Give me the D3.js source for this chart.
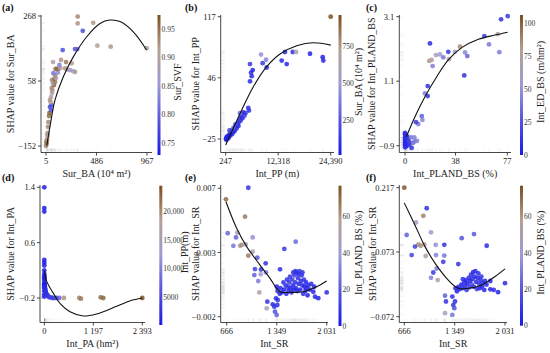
<!DOCTYPE html>
<html>
<head>
<meta charset="utf-8">
<script src="https://cdn.jsdelivr.net/npm/d3@7"></script>
<style>
  body { margin: 0; background: #fff; }
  svg { display: block; }
  svg text { font-family: "Liberation Serif", "Times New Roman", "DejaVu Serif", serif; }
</style>
</head>
<body>
<div id="chart-area"></div>
<script>
// ---- data: [x, shap, colour variable] ----
const aPoints = [
  [5,-152,0.93],[8,-148,0.92],[12,-142,0.94],[10,-138,0.95],[15,-132,0.93],[19,-122,0.91],[18,-115,0.90],
  [21,-110,0.92],[24,-90,0.93],[28,-75,0.93],[34,-55,0.95],[38,-45,0.96],[53,-36,0.79],[43,-26,0.78],
  [57,-20,0.78],[48,-10,0.91],[43,-3,0.92],[53,6,0.90],[62,19,0.89],[66,28,0.92],[59,35,0.93],
  [81,45,0.96],[70,50,0.87],[91,55,0.94],[62,61,0.93],[85,65,0.95],[100,68,0.88],[91,77,0.93],
  [75,83,0.82],[118,85,0.84],[281,87,0.92],[262,90,0.88],[234,93,0.85],[210,95,0.89],[95,97,0.94],
  [110,97,0.96],[124,97,0.95],[186,99,0.92],[140,100,0.90],[132,110,0.83],[250,115,0.91],[72,119,0.90],
  [196,119,0.94],[148,126,0.92],[164,158,0.78],[281,161,0.79],[303,161,0.80],[964,164,0.90],
  [621,169,0.92],[494,172,0.91],[355,220,0.78],[307,244,0.92],[455,246,0.92],[307,266,0.93]
];
const aCurve = [[12,-152],[43,-89],[91,-3],[170,72],[265,136],[393,201],[519,244],[614,255],[710,250],[836,217],[964,158]];

const bPoints = [
  [300,-25,40],[420,-23,60],[650,-22,30],[880,-21,80],[1110,-20,50],[1340,-18,90],[1570,-17,40],
  [1800,-16,120],[2030,-15,70],[2260,-12,150],[2490,-11,100],[2720,-9,60],[2950,-8,180],[3180,-6,90],
  [3410,-3,130],[3640,-1,200],[3870,1,110],[4100,4,160],[4330,6,90],[420,-26,30],[880,-24,50],
  [1340,-21,40],[1800,-19,70],[2260,-16,60],[2720,-13,110],[3180,-10,80],[3640,-4,150],[4100,-1,100],
  [4560,2,170],[4790,5,120],[1570,-15,250],[2030,-12,300],[2490,-8,220],[1110,-15,180],
  [3540,5,330],[5440,11,100],[5600,8,120],[5830,42,90],[6230,48,80],[6070,52,110],[6455,55,70],
  [5830,62,130],[9670,58,90],[8750,63,150],[14270,62,80],[13120,66,70],[22690,66,60],[22550,70,50],
  [19630,74,70],[9520,67,420],[8360,73,460],[13880,76,90],[15650,76,110],[16410,76,620],[24390,117,960]
];
const bCurve = [[247,-32],[1995,-12.6],[3930,8.7],[6600,35.7],[9680,59],[12740,73.7],[16580,83.3],[20400,86.8],[24400,84]];

const cPoints = [
  [0,-0.5,5],[0,-0.55,8],[0.5,-0.6,3],[0,-0.65,10],[1,-0.7,6],[0,-0.72,4],[0.5,-0.75,12],[0,-0.8,2],
  [1,-0.8,7],[0.2,-0.85,9],[1.5,-0.85,5],[0,-0.88,3],[2,-0.88,11],[0.5,-0.9,6],[1,-0.92,4],[0,-0.95,8],
  [3,-0.78,15],[2.5,-0.72,18],[4,-0.82,20],[5,-0.97,10],[1.5,-0.6,14],[0.3,-0.68,7],[2,-0.65,12],
  [6,-0.82,40],[7,-0.77,38],[9,-0.75,42],[3.2,-0.88,15],[4.5,-0.64,38],[7,-0.64,42],[10,-0.23,40],
  [8.3,-0.17,15],[13.1,-0.1,45],[12.6,0.02,30],[15,0.72,42],[17.1,0.64,12],[17.1,0.95,10],
  [20.8,1.57,42],[18.3,1.73,82],[20.1,1.76,76],[18.8,2.27,8],[23.3,1.91,62],[26.3,1.93,55],
  [28.8,1.84,38],[33.1,1.78,78],[32.6,2.01,12],[37.6,2.01,62],[44.6,1.28,10],[46.9,1.88,32],
  [45.2,1.99,45],[41.4,2.17,86],[71,2.0,42],[63.2,2.24,40],[69.8,2.56,72],[59.7,2.5,15],
  [72.3,3.02,10],[77.3,3.12,12]
];
const cCurve = [[1,-0.62],[7.5,0.0],[15,0.62],[23.9,1.24],[32.6,1.76],[42.7,2.14],[55.2,2.4],[67.7,2.53],[77.3,2.62]];

const dPoints = [
  [0,1.4,600],[0,1.1,500],[0,1.05,700],[0,0.35,400],[0,0.31,800],[0,0.27,500],[0,0.2,900],
  [0,0.15,600],[0,0.1,1200],[0,0.06,700],[0,0.02,1500],[0,0.0,800],[0,-0.05,1000],[0,-0.1,1100],
  [0,-0.15,900],[1,-0.18,1300],[2,0.12,800],[3,0.08,1000],[5,0.0,1100],[5,-0.02,1300],[8,0.0,900],
  [10,-0.05,1600],[12,-0.03,1400],[15,-0.07,2000],[18,-0.06,1700],[20,-0.08,1800],[25,-0.1,2200],
  [30,-0.12,2100],[35,-0.11,2500],[40,-0.13,2400],[50,-0.15,2800],[60,-0.16,3000],[70,-0.15,2600],
  [80,-0.17,3200],[100,-0.18,3500],[130,-0.19,3600],[160,-0.19,4000],[200,-0.2,4200],[250,-0.2,4500],
  [300,-0.2,5000],[367,-0.2,7500],[480,-0.2,19000],[855,-0.2,20500],[895,-0.21,21000],
  [1377,-0.19,22000],[1440,-0.2,22500],[2393,-0.2,24000]
];
const dCurve = [[0,0.2],[60,0.04],[220,-0.13],[400,-0.29],[628,-0.40],[952,-0.46],[1280,-0.43],[1768,-0.32],[2100,-0.24],[2393,-0.2]];

const ePoints = [
  [961,0.00704,8],[656,0.00623,70],[916,0.00501,66],[680,0.00385,25],[811,0.00389,48],[793,0.00356,22],
  [1021,0.00356,35],[757,0.00297,28],[848,0.00297,50],[871,0.00303,62],[925,0.00307,45],[1021,0.00256,50],
  [961,0.00228,66],[1084,0.00214,20],[1198,0.00174,8],[1052,0.00134,12],[1134,0.00131,10],[1202,0.00111,30],
  [1130,0.00097,40],[1043,0.00092,22],[1097,0.0005,30],[1111,-0.0003,52],[1394,0.00132,6],[1452,0.00275,10],
  [1608,0.00326,25],[1220,-0.00095,8],[1212,-0.00141,48],[1294,-0.00113,6],[1316,-0.0013,8],
  [1325,-0.00165,18],[1348,-0.00188,22],[1357,-0.00118,6],[1339,-0.00071,5],[1362,-0.00083,7],
  [1400,0.0,4],[1420,-0.0003,6],[1450,-0.0001,3],[1470,0.0002,8],[1480,-0.0004,5],[1500,0.0001,7],
  [1510,-0.0002,4],[1520,0.0004,9],[1540,0.0,3],[1550,-0.0003,6],[1560,0.0006,10],[1570,0.0002,4],
  [1580,-0.0001,5],[1590,0.0009,12],[1600,0.0004,6],[1610,0.0,3],[1620,0.0011,9],[1630,-0.0002,4],
  [1640,0.0007,7],[1650,0.0003,5],[1660,0.0012,11],[1670,-0.0001,3],[1680,0.0005,6],[1690,0.0009,8],
  [1700,0.0002,4],[1710,-0.0004,5],[1720,0.0006,7],[1730,0.0001,3],[1740,-0.0002,6],[1750,0.0004,4],
  [1760,0.0,5],[1770,-0.0005,3],[1780,0.0002,6],[1800,-0.0001,4],[1820,0.0003,5],[1440,0.0004,7],
  [1490,0.0006,5],[1530,0.0008,9],[1575,0.0011,6],[1605,0.0012,8],[1645,0.001,5],[1700,0.0011,7],
  [1390,-0.0004,4],[1360,-0.0002,6],[1350,0.0001,5],[1848,-0.00025,4],[1871,-0.0006,5],
  [1916,-0.0007,3],[2031,-0.0003,6],[1860,0.0001,4]
];
const eCurve = [[656,0.00606],[802,0.0042],[939,0.00291],[1121,0.00162],[1257,0.00069],[1394,-0.00025],[1530,-0.00029],[1712,-0.00025],[1894,0.0001],[2031,0.0005]];

const fPoints = [
  [666,0.217,75],[970,0.171,8],[924,0.154,65],[825,0.139,45],[1028,0.117,40],[698,0.111,22],
  [856,0.09,60],[937,0.09,55],[811,0.085,12],[888,0.087,62],[1092,0.089,35],[1208,0.089,8],
  [1444,0.104,18],[1611,0.113,20],[1783,0.087,6],[766,0.066,14],[956,0.064,55],[1096,0.066,32],
  [1208,0.065,28],[1194,0.051,10],[1398,0.046,8],[1059,0.027,10],[1105,0.036,30],[1028,0.015,32],
  [1119,0.01,50],[1218,-0.025,22],[1231,-0.038,8],[1317,-0.027,6],[1218,-0.064,48],[1330,-0.046,8],
  [1344,-0.053,18],[1317,-0.068,28],[1353,-0.038,6],
  [1400,-0.005,4],[1420,-0.01,6],[1440,0.0,3],[1460,-0.008,8],[1480,0.005,5],[1490,-0.004,7],
  [1500,0.01,4],[1510,-0.012,9],[1520,0.002,3],[1540,0.015,6],[1550,-0.006,10],[1560,0.008,4],
  [1570,0.022,5],[1580,0.0,12],[1590,0.012,6],[1600,0.028,3],[1610,-0.005,9],[1620,0.018,4],
  [1630,0.03,7],[1640,0.006,5],[1650,-0.01,11],[1660,0.015,3],[1670,0.025,6],[1680,0.002,8],
  [1690,-0.008,4],[1700,0.01,5],[1710,0.018,7],[1720,-0.004,3],[1730,0.004,6],[1750,-0.012,4],
  [1760,0.008,5],[1780,0.0,3],[1460,0.012,6],[1380,-0.015,4],[1360,-0.008,5],
  [1832,-0.0106,4],[1878,-0.012,5],[1937,-0.017,3],[2031,0.003,6],[1832,0.008,4]
];
const fCurve = [[666,0.183],[811,0.133],[947,0.085],[1082,0.048],[1262,0.01],[1398,-0.0084],[1534,-0.0084],[1715,-0.001],[1896,0.018],[2031,0.035]];

// ---- tick values and labels ----
const aXTicks = [5,486,967],        aXLabels = ["5","486","967"];
const aYTicks = [-152,58,268],      aYLabels = ["\u2212152","58","268"];
const aCTicks = [0.75,0.80,0.85,0.90,0.95], aCLabels = ["0.75","0.80","0.85","0.90","0.95"];
const bXTicks = [247,12318,24390],  bXLabels = ["247","12,318","24,390"];
const bYTicks = [-25,46,117],       bYLabels = ["\u221225","46","117"];
const bCTicks = [250,500,750],      bCLabels = ["250","500","750"];
const cXTicks = [0,38,77],          cXLabels = ["0","38","77"];
const cYTicks = [-0.9,1.1,3.1],     cYLabels = ["\u22120.9","1.1","3.1"];
const cCTicks = [0,25,50,75,100],   cCLabels = ["0","25","50","75","100"];
const dXTicks = [0,1197,2393],      dXLabels = ["0","1 197","2 393"];
const dYTicks = [-0.2,0.6,1.4],     dYLabels = ["\u22120.2","0.6","1.4"];
const dCTicks = [5000,10000,15000,20000], dCLabels = ["5000","10,000","15,000","20,000"];
const eXTicks = [666,1349,2031],    eXLabels = ["666","1 349","2 031"];
const eYTicks = [-0.002,0.0025,0.007], eYLabels = ["\u22120.002","0.003","0.007"];
const eCTicks = [0,20,40,60],       eCLabels = ["0","20","40","60"];
const fXTicks = [666,1349,2031],    fXLabels = ["666","1 349","2 031"];
const fYTicks = [-0.072,0.073,0.217], fYLabels = ["\u22120.072","0.073","0.217"];
const fCTicks = [0,20,40,60],       fCLabels = ["0","20","40","60"];

const cmapStops = ["#1a1ae8","#5656dc","#9d9ad6","#b5a092","#7b4f1f"];

const FONT = "Liberation Serif";
const W = 550, H = 353;

const panels = [
  {tag:"(a)", pts:aPoints, curve:aCurve, xt:aXTicks, xl:aXLabels, yt:aYTicks, yl:aYLabels, ct:aCTicks, cl:aCLabels,
   box:{l:41,r:152,t:15,b:152.5}, xpx:[46,147], ypx:[146,16], cb:{x:157.5,t:15,b:155,dx:20}, cdom:[0.729,0.975],
   xlab:"Sur_BA (10\u2074 m\u00b2)", ylab:"SHAP value for Sur_BA", ctitle:"Sur_SVF", tagx:2, ylx:10},
  {tag:"(b)", pts:bPoints, curve:bCurve, xt:bXTicks, xl:bXLabels, yt:bYTicks, yl:bYLabels, ct:bCTicks, cl:bCLabels,
   box:{l:220.7,r:334,t:15,b:152.5}, xpx:[225.7,330.7], ypx:[139,16.7], cb:{x:338.5,t:15,b:155,dx:20}, cdom:[18,964],
   xlab:"Int_PP (m)", ylab:"SHAP value for Int_PP", ctitle:"Sur_BA (10\u2074 m\u00b2)", tagx:185, ylx:195},
  {tag:"(c)", pts:cPoints, curve:cCurve, xt:cXTicks, xl:cXLabels, yt:cYTicks, yl:cYLabels, ct:cCTicks, cl:cCLabels,
   box:{l:399.3,r:511,t:15,b:152.5}, xpx:[405,507.3], ypx:[145.7,16.7], cb:{x:520,t:15,b:155,dx:20}, cdom:[0,106],
   xlab:"Int_PLAND_BS (%)", ylab:"SHAP value for Int_PLAND_BS", ctitle:"Int_ED_BS (m/hm\u00b2)", tagx:366, ylx:371},
  {tag:"(d)", pts:dPoints, curve:dCurve, xt:dXTicks, xl:dXLabels, yt:dYTicks, yl:dYLabels, ct:dCTicks, cl:dCLabels,
   box:{l:40,r:145,t:185,b:322.5}, xpx:[44.3,142.3], ypx:[298,187.3], cb:{x:159.3,t:185.7,b:325,dx:25}, cdom:[247,24390],
   xlab:"Int_PA (hm\u00b2)", ylab:"SHAP value for Int_PA", ctitle:"Int_PP(m)", tagx:2, ylx:10},
  {tag:"(e)", pts:ePoints, curve:eCurve, xt:eXTicks, xl:eXLabels, yt:eYTicks, yl:eYLabels, ct:eCTicks, cl:eCLabels,
   box:{l:220.7,r:328,t:185,b:322.5}, xpx:[226.7,326.7], ypx:[316.7,188.3], cb:{x:338.5,t:185.7,b:326,dx:20}, cdom:[0,77],
   xlab:"Int_SR", ylab:"SHAP value for Int_SR", ctitle:"Int_PLAND_BS (%)", tagx:185, ylx:195},
  {tag:"(f)", pts:fPoints, curve:fCurve, xt:fXTicks, xl:fXLabels, yt:fYTicks, yl:fYLabels, ct:fCTicks, cl:fCLabels,
   box:{l:399.3,r:507,t:185,b:322.5}, xpx:[404.3,505], ypx:[316.7,187.7], cb:{x:520,t:185.7,b:325.7,dx:20}, cdom:[0,77],
   xlab:"Int_SR", ylab:"SHAP value for Int_SR", ctitle:"Int_PLAND_BS (%)", tagx:366, ylx:372}
];

const svg = d3.select("#chart-area").append("svg")
    .attr("width", W).attr("height", H)
    .attr("font-family", FONT);
const defs = svg.append("defs");

const cmap = d3.scaleLinear()
    .domain(cmapStops.map((d, i) => i / (cmapStops.length - 1)))
    .range(cmapStops)
    .interpolate(d3.interpolateRgb);

// small helper so every label gets the serif face
function label(g, txt, size){
    return g.append("text").attr("font-family", FONT).attr("font-size", size).attr("fill", "#222").text(txt);
}

panels.forEach(function(p, pi){
    const g = svg.append("g");
    const x = d3.scaleLinear().domain([p.xt[0], p.xt[p.xt.length-1]]).range(p.xpx);
    const y = d3.scaleLinear().domain([p.yt[0], p.yt[p.yt.length-1]]).range(p.ypx);
    const cNorm = d3.scaleLinear().domain(p.cdom).range([0,1]).clamp(true);
    const colour = c => cmap(cNorm(c));
    const b = p.box;

    // rug marks (faint, so only dense places show)
    g.append("g").selectAll("line").data(p.pts).enter().append("line")
        .attr("x1", d => x(d[0])).attr("x2", d => x(d[0]))
        .attr("y1", b.b - 1).attr("y2", b.b - 4)
        .attr("stroke", "#888").attr("stroke-width", 0.6).attr("opacity", 0.14);
    g.append("g").selectAll("line").data(p.pts).enter().append("line")
        .attr("y1", d => y(d[1])).attr("y2", d => y(d[1]))
        .attr("x1", b.l + 1).attr("x2", b.l + 4)
        .attr("stroke", "#888").attr("stroke-width", 0.6).attr("opacity", 0.14);

    // points
    g.append("g").selectAll("circle").data(p.pts).enter().append("circle")
        .attr("cx", d => x(d[0]))
        .attr("cy", d => y(d[1]))
        .attr("r", 2.4)
        .attr("fill", d => colour(d[2]))
        .attr("opacity", 0.85);

    // fitted curve
    const line = d3.line().x(d => x(d[0])).y(d => y(d[1])).curve(d3.curveCatmullRom);
    g.append("path").datum(p.curve)
        .attr("d", line)
        .attr("fill", "none")
        .attr("stroke", "#111")
        .attr("stroke-width", 1.1);

    // spines
    g.append("line").attr("x1", b.l).attr("x2", b.l).attr("y1", b.t).attr("y2", b.b)
        .attr("stroke", "#333").attr("stroke-width", 0.9);
    g.append("line").attr("x1", b.l).attr("x2", b.r).attr("y1", b.b).attr("y2", b.b)
        .attr("stroke", "#333").attr("stroke-width", 0.9);

    // x ticks
    p.xt.forEach(function(v, i){
        g.append("line").attr("x1", x(v)).attr("x2", x(v)).attr("y1", b.b).attr("y2", b.b + 3)
            .attr("stroke", "#333").attr("stroke-width", 0.9);
        label(g, p.xl[i], "8.5px").attr("x", x(v)).attr("y", b.b + 11.5).attr("text-anchor", "middle");
    });
    // y ticks
    p.yt.forEach(function(v, i){
        g.append("line").attr("x1", b.l - 3).attr("x2", b.l).attr("y1", y(v)).attr("y2", y(v))
            .attr("stroke", "#333").attr("stroke-width", 0.9);
        label(g, p.yl[i], "8.5px").attr("x", b.l - 5).attr("y", y(v) + 3).attr("text-anchor", "end");
    });

    // axis titles
    label(g, p.xlab, "10px").attr("x", (b.l + b.r) / 2).attr("y", b.b + 24).attr("text-anchor", "middle");
    label(g, p.ylab, "10px")
        .attr("transform", "translate(" + (p.ylx + 3.5) + "," + ((b.t + b.b) / 2) + ") rotate(-90)")
        .attr("text-anchor", "middle");

    // panel tag
    label(g, p.tag, "10px").attr("x", p.tagx).attr("y", b.t - 4)
        .attr("font-weight", "bold").attr("fill", "#111");

    // colour bar
    const gid = "cb" + pi;
    const grad = defs.append("linearGradient").attr("id", gid)
        .attr("x1", 0).attr("y1", 1).attr("x2", 0).attr("y2", 0);
    cmapStops.forEach(function(c, i){
        grad.append("stop").attr("offset", (i / (cmapStops.length - 1) * 100) + "%").attr("stop-color", c);
    });
    g.append("rect").attr("x", p.cb.x).attr("y", p.cb.t)
        .attr("width", 3).attr("height", p.cb.b - p.cb.t)
        .attr("fill", "url(#" + gid + ")");
    const cy = d3.scaleLinear().domain(p.cdom).range([p.cb.b, p.cb.t]);
    p.ct.forEach(function(v, i){
        label(g, p.cl[i], "7.5px").attr("x", p.cb.x + 4).attr("y", cy(v) + 2.7).attr("fill", "#333");
    });
    label(g, p.ctitle, "10px")
        .attr("transform", "translate(" + (p.cb.x + p.cb.dx + 3.5) + "," + ((p.cb.t + p.cb.b) / 2 - 3) + ") rotate(-90)")
        .attr("text-anchor", "middle");
});
</script>
</body>
</html>
